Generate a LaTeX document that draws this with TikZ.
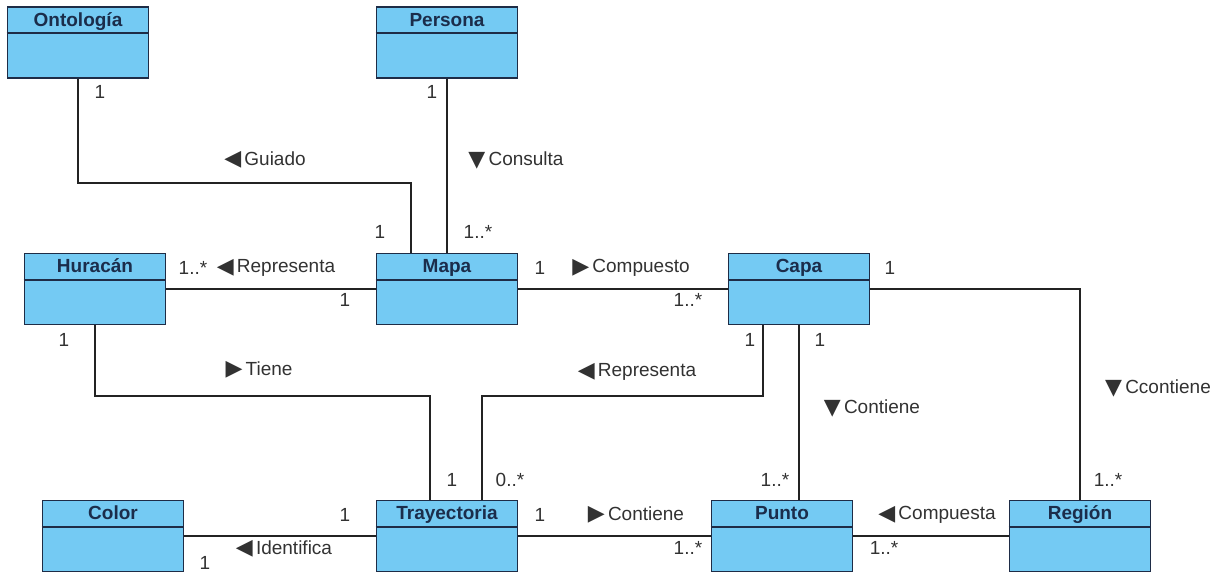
\documentclass[tikz,border=0pt]{standalone}
\usepackage{fontspec}
\setmainfont{Liberation Sans}
\newfontfamily\symfont{DejaVu Sans}
\definecolor{classfill}{RGB}{116,202,243}
\definecolor{classedge}{RGB}{30,44,70}
\definecolor{classtext}{RGB}{27,45,75}
\definecolor{linkcol}{RGB}{35,35,35}
\definecolor{labelcol}{RGB}{50,50,50}
% direction marks of association names
\newcommand\dirL{{\symfont\fontsize{22}{22}\selectfont\raisebox{-0.5pt}{◀}}}
\newcommand\dirR{{\symfont\fontsize{22}{22}\selectfont\raisebox{-0.5pt}{▶}}}
\newcommand\dirD{{\symfont\fontsize{22}{22}\selectfont\raisebox{-1pt}{▼}}}
\tikzset{
  classbox/.style={draw=classedge, fill=classfill, line width=1.8pt,
    minimum width=141pt, minimum height=71pt, inner sep=0pt},
  classline/.style={draw=classedge, line width=1.8pt},
  classtitle/.style={font=\fontsize{19}{19}\selectfont\bfseries, text=classtext,
    inner sep=0pt, anchor=base},
  assoc/.style={draw=linkcol, line width=1.6pt},
  lbl/.style={font=\fontsize{19}{19}\selectfont, text=labelcol, inner sep=0pt}
}
% class box: node name, x, y, title
\newcommand\umlclass[4]{%
  \node[classbox] (#1) at (#2,#3) {};
  \draw[classline] ([yshift=-27pt]#1.north west) -- ([yshift=-27pt]#1.north east);
  \node[classtitle] at ([yshift=-20pt]#1.north) {#4};
}
\begin{document}
\begin{tikzpicture}[x=1pt,y=1pt]
\useasboundingbox (0,0) rectangle (1224,-574);

\coordinate (guidbend) at (78,-183);
\coordinate (tienebend) at (95,-396);
\coordinate (repbend) at (763,-396);

\umlclass{onto}{78}{-42.5}{Ontología}
\umlclass{persona}{447}{-42.5}{Persona}
\umlclass{huracan}{95}{-289}{Huracán}
\umlclass{mapa}{447}{-289}{Mapa}
\umlclass{capa}{799}{-289}{Capa}
\umlclass{color}{113}{-536}{Color}
\umlclass{tray}{447}{-536}{Trayectoria}
\umlclass{punto}{782}{-536}{Punto}
\umlclass{region}{1080}{-536}{Región}

% associations
\draw[assoc] (onto.south) -- (guidbend) -| ([xshift=35.5pt]mapa.north west);
\draw[assoc] (persona.south) -- (mapa.north);
\draw[assoc] (huracan.east) -- (mapa.west);
\draw[assoc] (mapa.east) -- (capa.west);
\draw[assoc] (capa.east) -| (region.north);
\draw[assoc] (huracan.south) -- (tienebend) -| ([xshift=-17pt]tray.north);
\draw[assoc] ([xshift=-36pt]capa.south) -- (repbend) -| ([xshift=35pt]tray.north);
\draw[assoc] (capa.south) -- (capa.south |- punto.north);
\draw[assoc] (color.east) -- (tray.west);
\draw[assoc] (tray.east) -- (punto.west);
\draw[assoc] (punto.east) -- (region.west);

% association names
\node[lbl] at (265,-160) {\dirL\,Guiado};
\node[lbl] at (516,-160) {\dirD\,Consulta};
\node[lbl] at (276,-268) {\dirL\,Representa};
\node[lbl] at (631,-268) {\dirR\,Compuesto};
\node[lbl] at (1158,-388) {\dirD\,Ccontiene};
\node[lbl] at (259,-370) {\dirR\,Tiene};
\node[lbl] at (637,-372) {\dirL\,Representa};
\node[lbl] at (872,-408) {\dirD\,Contiene};
\node[lbl] at (284,-549) {\dirL\,Identifica};
\node[lbl] at (636,-515) {\dirR\,Contiene};
\node[lbl] at (937,-515) {\dirL\,Compuesta};

% multiplicities
\node[lbl] at (100,-92) {1};
\node[lbl] at (380,-232) {1};
\node[lbl] at (432,-92) {1};
\node[lbl] at (478,-232) {1..*};
\node[lbl] at (193,-268) {1..*};
\node[lbl] at (345,-300) {1};
\node[lbl] at (540,-268) {1};
\node[lbl] at (688,-300) {1..*};
\node[lbl] at (890,-268) {1};
\node[lbl] at (1108,-480) {1..*};
\node[lbl] at (64,-340) {1};
\node[lbl] at (452,-480) {1};
\node[lbl] at (750,-340) {1};
\node[lbl] at (820,-340) {1};
\node[lbl] at (510,-480) {0..*};
\node[lbl] at (775,-480) {1..*};
\node[lbl] at (345,-515) {1};
\node[lbl] at (205,-563) {1};
\node[lbl] at (540,-515) {1};
\node[lbl] at (688,-548) {1..*};
\node[lbl] at (884,-548) {1..*};
\end{tikzpicture}
\end{document}
